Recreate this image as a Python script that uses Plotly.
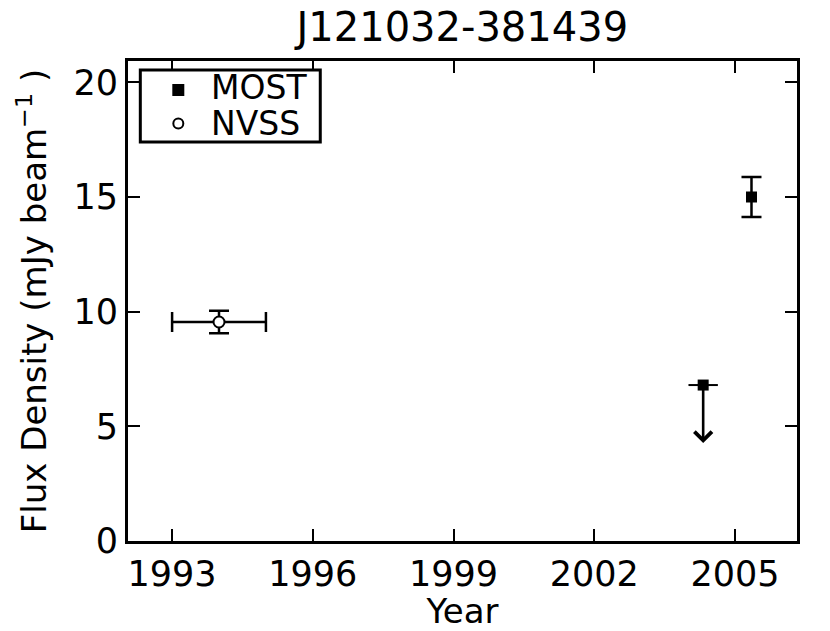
import plotly.graph_objects as go

# MOST detections (year, flux, error)
most_year = [2005.35]
most_flux = [15.0]
most_err = [0.87]

# MOST upper limit
lim_year = [2004.32]
lim_flux = [6.8]
lim_arrow_to = [4.27]

# NVSS
nvss_year = [1994.0]
nvss_year_err = [1.0]
nvss_flux = [9.55]
nvss_flux_err = [0.49]

x_ticks = [1993, 1996, 1999, 2002, 2005]
y_ticks = [0, 5, 10, 15, 20]

legend_names = ["MOST", "NVSS"]

FONT = "DejaVu Sans"

fig = go.Figure()

# NVSS point with x and y error bars
fig.add_trace(go.Scatter(
    x=nvss_year, y=nvss_flux, mode="markers", name="NVSS",
    marker=dict(symbol="circle", size=11, color="white",
                line=dict(color="black", width=2)),
    error_x=dict(type="data", array=nvss_year_err, color="black",
                 thickness=2.5, width=10),
    error_y=dict(type="data", array=nvss_flux_err, color="black",
                 thickness=2.5, width=10),
))

# MOST upper limit: cap line + square, arrow added as annotation
fig.add_trace(go.Scatter(
    x=lim_year, y=lim_flux, mode="markers", name="MOST",
    marker=dict(symbol="line-ew", size=21, color="black",
                line=dict(color="black", width=2)),
    hoverinfo="skip",
))
fig.add_trace(go.Scatter(
    x=lim_year, y=lim_flux, mode="markers", name="MOST",
    marker=dict(symbol="square", size=11, color="black"),
))

# MOST detection with y error bar
fig.add_trace(go.Scatter(
    x=most_year, y=most_flux, mode="markers", name="MOST",
    marker=dict(symbol="square", size=11, color="black"),
    error_y=dict(type="data", array=most_err, color="black",
                 thickness=2.5, width=10),
))

for xv, y0, y1 in zip(lim_year, lim_flux, lim_arrow_to):
    fig.add_annotation(
        x=xv, y=y1, ax=xv, ay=y0, xref="x", yref="y", axref="x", ayref="y",
        showarrow=True, arrowhead=4, arrowsize=1.3, arrowwidth=2.6,
        arrowcolor="black", text="", standoff=0,
    )

# legend drawn by hand so the rows sit as tight as in the original
fig.add_shape(type="rect", xref="paper", yref="paper",
              x0=0.0184, x1=0.2874, y0=0.831, y1=0.981,
              line=dict(color="black", width=3), fillcolor="white")
fig.add_shape(type="rect", xref="paper", yref="paper",
              xsizemode="pixel", ysizemode="pixel",
              xanchor=0.0752, yanchor=0.9396, x0=-6, x1=6, y0=-6, y1=6,
              line=dict(width=0), fillcolor="black")
fig.add_shape(type="circle", xref="paper", yref="paper",
              xsizemode="pixel", ysizemode="pixel",
              xanchor=0.0752, yanchor=0.8698, x0=-5, x1=5, y0=-5, y1=5,
              line=dict(color="black", width=2), fillcolor="white")
for name, yy in zip(legend_names, [0.944, 0.870]):
    fig.add_annotation(
        text=name, x=0.121, y=yy, xref="paper", yref="paper",
        xanchor="left", yanchor="middle", showarrow=False,
        font=dict(family=FONT, size=33, color="black"),
    )

axis_common = dict(
    showline=True, linecolor="black", linewidth=3, mirror="ticks",
    ticks="inside", ticklen=12, tickwidth=2, tickcolor="black",
    showgrid=False, zeroline=False, automargin=False,
    tickfont=dict(family=FONT, size=35, color="black"),
)

fig.update_xaxes(
    range=[1992.06, 2006.32], tickvals=x_ticks,
    ticktext=[str(v) for v in x_ticks],
    title=dict(text="Year", font=dict(family=FONT, size=34, color="black"),
               standoff=4),
    **axis_common,
)
fig.update_yaxes(
    range=[0, 20.93], tickvals=y_ticks,
    title=dict(text="Flux Density (mJy beam<sup>\u22121</sup> )",
               font=dict(family=FONT, size=34, color="black"), standoff=17),
    **axis_common,
)

fig.update_layout(
    width=830, height=631,
    template="none",
    paper_bgcolor="white", plot_bgcolor="white",
    margin=dict(l=128, r=33, t=61, b=90),
    title=dict(text="J121032-381439", x=0.557, xanchor="center",
               y=0.958, yanchor="middle",
               font=dict(family=FONT, size=40, color="black")),
    showlegend=False,
)

fig.write_html("out.html", config={"displayModeBar": False},
               post_script="document.body.style.margin='0';")
